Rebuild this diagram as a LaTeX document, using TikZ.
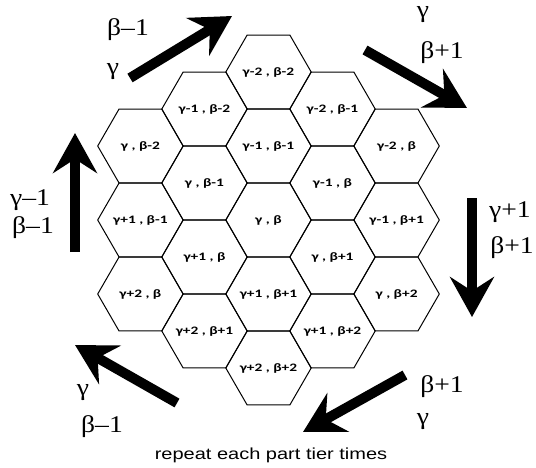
\documentclass[tikz,border=0pt]{standalone}
\usepackage{fontspec}
\setmainfont{Liberation Serif}
\newfontfamily\hexfont[FakeStretch=1.35,BoldFont={Carlito Bold}]{Carlito}
\newfontfamily\lblfont[FakeStretch=1.15]{Liberation Serif}
\newfontfamily\capfont[FakeStretch=1.25]{Liberation Sans}
\usetikzlibrary{arrows.meta}
\tikzset{
  hextext/.style={inner sep=0pt, font=\hexfont\bfseries\fontsize{11.4}{13}\selectfont},
  hexline/.style={draw, line width=1pt, line join=miter},
  lbl/.style={inner sep=0pt, font=\lblfont\fontsize{24}{26}\selectfont},
  caption/.style={inner sep=0pt, font=\capfont\fontsize{16}{18}\selectfont},
  bigarrow/.style={line width=10pt, -{Stealth[length=40pt,width=44pt,inset=14pt]}}
}
\begin{document}
\begin{tikzpicture}[x=1pt,y=-1pt]
\useasboundingbox (0,0) rectangle (536,467);
% column 1
\node[hextext] (h11) at (140.4,146) {γ , β-2};
\node[hextext] (h12) at (140.4,220) {γ+1 , β-1};
\node[hextext] (h13) at (140.4,294) {γ+2 , β};
% column 2
\node[hextext] (h21) at (204.5,109) {γ-1 , β-2};
\node[hextext] (h22) at (204.5,183) {γ , β-1};
\node[hextext] (h23) at (204.5,257) {γ+1 , β};
\node[hextext] (h24) at (204.5,331) {γ+2 , β+1};
% column 3
\node[hextext] (h31) at (268.5,72) {γ-2 , β-2};
\node[hextext] (h32) at (268.5,146) {γ-1 , β-1};
\node[hextext] (h33) at (268.5,220) {γ , β};
\node[hextext] (h34) at (268.5,294) {γ+1 , β+1};
\node[hextext] (h35) at (268.5,368) {γ+2 , β+2};
% column 4
\node[hextext] (h41) at (332.5,109) {γ-2 , β-1};
\node[hextext] (h42) at (332.5,183) {γ-1 , β};
\node[hextext] (h43) at (332.5,257) {γ , β+1};
\node[hextext] (h44) at (332.5,331) {γ+1 , β+2};
% column 5
\node[hextext] (h51) at (396.6,146) {γ-2 , β};
\node[hextext] (h52) at (396.6,220) {γ-1 , β+1};
\node[hextext] (h53) at (396.6,294) {γ , β+2};
% hexagon outlines
\foreach \n in {h11,h12,h13,h21,h22,h23,h24,h31,h32,h33,h34,h35,h41,h42,h43,h44,h51,h52,h53}
  \draw[hexline] (\n.center) ++(42.7,0) -- ++(-21.35,-36.98) -- ++(-42.7,0) -- ++(-21.35,36.98)
     -- ++(21.35,36.98) -- ++(42.7,0) -- cycle;
% arrow end points
\coordinate (a1s) at (130,78);  \coordinate (a1e) at (232,16);
\coordinate (a2s) at (365,50);  \coordinate (a2e) at (467,108);
\coordinate (a3s) at (75,252);  \coordinate (a3e) at (75,133);
\coordinate (a4s) at (472,198); \coordinate (a4e) at (472,317);
\coordinate (a5s) at (177,403); \coordinate (a5e) at (75,345);
\coordinate (a6s) at (405,375); \coordinate (a6e) at (303,432);
\draw[bigarrow] (a1s) -- (a1e);
\draw[bigarrow] (a2s) -- (a2e);
\draw[bigarrow] (a3s) -- (a3e);
\draw[bigarrow] (a4s) -- (a4e);
\draw[bigarrow] (a5s) -- (a5e);
\draw[bigarrow] (a6s) -- (a6e);
% labels
\node[lbl] (l1a) at (128,30) {β–1};
\node[lbl] (l1b) at (113,72) {γ};
\node[lbl] (l2a) at (423,15) {γ};
\node[lbl] (l2b) at (442,53) {β+1};
\node[lbl] (l3a) at (30,200) {γ–1};
\node[lbl] (l3b) at (33,228) {β–1};
\node[lbl] (l4a) at (510,212) {γ+1};
\node[lbl] (l4b) at (512,248) {β+1};
\node[lbl] (l5a) at (83,393) {γ};
\node[lbl] (l5b) at (102,427) {β–1};
\node[lbl] (l6a) at (442,387) {β+1};
\node[lbl] (l6b) at (423,422) {γ};
\node[caption] (cap) at (271,455) {repeat each part tier times};
\end{tikzpicture}
\end{document}
